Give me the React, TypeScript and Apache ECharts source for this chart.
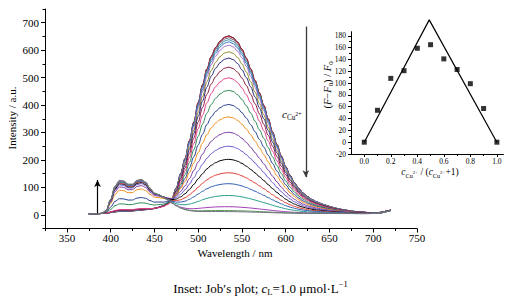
import React, { useEffect, useRef } from "react";
import * as echarts from "echarts";

const FONT = "Liberation Serif";

// Wavelength grid of the emission spectra (nm)
const wavelengths = [
  375, 380, 385, 390, 395, 400, 405, 410, 415, 420,
  425, 430, 435, 440, 445, 450, 455, 460, 465, 470,
  475, 480, 485, 490, 495, 500, 505, 510, 515, 520,
  525, 530, 535, 540, 545, 550, 555, 560, 565, 570,
  575, 580, 585, 590, 595, 600, 605, 610, 615, 620,
  625, 630, 635, 640, 645, 650, 655, 660, 665, 670,
  675, 680, 685, 690, 695, 700, 705, 710, 715, 720,
];

// Relative profile of the 535 nm band
const greenProfile = [
  0, 0, 0, 0.001, 0.002, 0.004, 0.006, 0.008, 0.009, 0.01,
  0.011, 0.013, 0.015, 0.018, 0.021, 0.026, 0.033, 0.042, 0.058, 0.085,
  0.145, 0.225, 0.31, 0.41, 0.515, 0.625, 0.725, 0.815, 0.885, 0.935,
  0.97, 0.992, 1.0, 0.99, 0.965, 0.925, 0.875, 0.815, 0.75, 0.68,
  0.61, 0.535, 0.46, 0.39, 0.325, 0.265, 0.215, 0.175, 0.142, 0.116,
  0.096, 0.08, 0.068, 0.058, 0.049, 0.041, 0.034, 0.028, 0.023, 0.019,
  0.015, 0.012, 0.01, 0.008, 0.006, 0.005, 0.004, 0.004, 0.004, 0.004,
];

// Relative profile of the 410/433 nm band
const blueProfile = [
  0, 0, 0, 0.01, 0.1, 0.42, 0.8, 0.97, 0.95, 0.86,
  0.86, 0.97, 1.0, 0.92, 0.74, 0.6, 0.555, 0.48, 0.4, 0.31,
  0.225, 0.155, 0.105, 0.072, 0.052, 0.04, 0.034, 0.03, 0.027, 0.025,
  0.023, 0.021, 0.02, 0.019, 0.018, 0.017, 0.016, 0.015, 0.014, 0.013,
  0.012, 0.011, 0.01, 0.009, 0.009, 0.008, 0.008, 0.007, 0.007, 0.006,
  0.006, 0.005, 0.005, 0.005, 0.004, 0.004, 0.004, 0.003, 0.003, 0.003,
  0.003, 0.002, 0.002, 0.002, 0.002, 0.002, 0.002, 0.002, 0.002, 0.002,
];

// Common baseline of all spectra (a.u.)
const baseline = [
  4, 4, 4, 4, 4, 4, 4, 4, 4, 4,
  4, 4, 4, 4, 4, 4, 4, 4, 4, 4,
  4, 4, 4, 4, 4, 4, 4, 4, 4, 4,
  4, 4, 4, 4, 4, 4, 4, 4, 4, 4,
  4, 4, 4, 4, 4, 4, 4, 4, 4, 4,
  4, 4, 4, 4, 4, 4, 4, 4, 4, 4,
  4, 4, 4, 4, 4, 5, 5, 7, 11, 15,
];

// Per-titration-step band heights (a.u.)
const greenPeaks = [648, 647, 641, 634, 626, 614, 590, 567, 534, 495, 449, 397, 351, 295, 244, 196, 147, 107, 64, 23, 9, 5];
const bluePeaks = [3, 4, 4, 5, 5, 6, 7, 8, 9, 11, 33, 53, 85, 98, 106, 111, 115, 118, 120, 122, 124, 125];
const curveColors = [
  "#111111", "#c8102e", "#6b5b6e", "#2f8f9d", "#3c6fc4", "#a070c0", "#8c8c28", "#28287a",
  "#8b1c3c", "#e0408a", "#2e8b57", "#27408b", "#f28e1c", "#7b3f9e", "#6a5acd", "#000000",
  "#e03c31", "#2f5fb3", "#2a9d8f", "#a03cb4", "#5a9a5a", "#707080",
];

const xTicksMain = [350, 400, 450, 500, 550, 600, 650, 700, 750];
const xMinorMain = [325, 375, 425, 475, 525, 575, 625, 675, 725];
const yTicksMain = [0, 100, 200, 300, 400, 500, 600, 700];
const yMinorMain = [-50, 50, 150, 250, 350, 450, 550, 650, 750];

// Inset: Job's plot
const jobRatio = [0, 0.1, 0.2, 0.3, 0.4, 0.5, 0.6, 0.7, 0.8, 0.9, 1.0];
const jobSignal = [0, 54, 108, 121, 159, 165, 141, 123, 99, 57, 0];
const fitRatio = [0, 0.49, 1.0];
const fitSignal = [0, 207, 0];
const insetXTicks = [0, 0.2, 0.4, 0.6, 0.8, 1.0];
const insetXMinor = [0.1, 0.3, 0.5, 0.7, 0.9];
const insetYTicks = [-20, 0, 20, 40, 60, 80, 100, 120, 140, 160, 180];
const insetYMinor = [-10, 10, 30, 50, 70, 90, 110, 130, 150, 170];

// Arrows (data coordinates of main plot)
const upArrow = [[385, 6], [385, 127]];
const downArrow = [[623, 686], [623, 137]];

function richSet(size: number) {
  const sub = Math.round(size * 0.65 * 10) / 10;
  const lh = size + 4;
  return {
    n: { fontFamily: FONT, fontSize: size, fill: "#000", color: "#000", lineHeight: lh, verticalAlign: "middle" },
    i: { fontFamily: FONT, fontSize: size, fontStyle: "italic", fill: "#000", color: "#000", lineHeight: lh, verticalAlign: "middle" },
    s: { fontFamily: FONT, fontSize: sub, fill: "#000", color: "#000", lineHeight: sub, verticalAlign: "bottom" },
    p: { fontFamily: FONT, fontSize: sub, fill: "#000", color: "#000", lineHeight: sub, verticalAlign: "top" },
    q: { fontFamily: FONT, fontSize: Math.round(sub * 0.8 * 10) / 10, fill: "#000", color: "#000", lineHeight: sub, verticalAlign: "middle" },
  };
}

function valueAxis(o: any) {
  const { grid, min, max, pos, ticks, labels, tickLen, fontSize, margin, formatter, showLine } = o;
  return {
    type: "value",
    gridIndex: grid,
    min,
    max,
    position: pos,
    axisLine: { show: showLine, onZero: false, lineStyle: { color: "#000", width: 1 } },
    axisTick: { show: true, inside: false, customValues: ticks, length: tickLen, lineStyle: { color: "#000", width: 1 } },
    axisLabel: labels
      ? { show: true, customValues: labels, color: "#000", fontFamily: FONT, fontSize, margin, formatter }
      : { show: false },
    splitLine: { show: false },
    minorTick: { show: false },
  };
}

function buildOption() {
  const spectra = greenPeaks.map((g, k) => ({
    type: "line",
    xAxisIndex: 0,
    yAxisIndex: 0,
    symbol: "none",
    showSymbol: false,
    smooth: 0.35,
    smoothMonotone: "x",
    silent: true,
    emphasis: { disabled: true },
    lineStyle: { color: curveColors[k], width: 1 },
    itemStyle: { color: curveColors[k] },
    data: wavelengths.map((w, i) => [
      w,
      Math.round((g * greenProfile[i] + bluePeaks[k] * blueProfile[i] + baseline[i]) * 10) / 10,
    ]),
  }));

  const arrowSeries = {
    type: "line",
    xAxisIndex: 0,
    yAxisIndex: 0,
    data: [],
    silent: true,
    markLine: {
      silent: true,
      animation: false,
      symbol: ["none", "arrow"],
      symbolSize: [5, 7],
      label: { show: false },
      lineStyle: { color: "#000", width: 1.2, type: "solid" },
      data: [
        [{ coord: upArrow[0] }, { coord: upArrow[1] }],
        [{ coord: downArrow[0], lineStyle: { color: "#3a3a3a", width: 1.3 } }, { coord: downArrow[1] }],
      ],
    },
  };

  const jobScatter = {
    type: "scatter",
    xAxisIndex: 2,
    yAxisIndex: 2,
    symbol: "rect",
    symbolSize: 5,
    silent: true,
    itemStyle: { color: "#000" },
    data: jobRatio.map((r, i) => [r, jobSignal[i]]),
    z: 5,
  };
  const jobFit = {
    type: "line",
    xAxisIndex: 2,
    yAxisIndex: 2,
    symbol: "none",
    showSymbol: false,
    clip: false,
    silent: true,
    lineStyle: { color: "#000", width: 1.2 },
    data: fitRatio.map((r, i) => [r, fitSignal[i]]),
  };

  const r11 = richSet(11);
  const r13 = richSet(13);
  const r10 = richSet(10.5);
  const r9 = richSet(9.5);

  const textStyle = (extra: any) => ({
    fontFamily: FONT,
    fill: "#000",
    align: "center",
    verticalAlign: "middle",
    ...extra,
  });

  return {
    animation: false,
    backgroundColor: "#ffffff",
    textStyle: { fontFamily: FONT },
    grid: [
      { left: 45, top: 9, width: 372, height: 219.5, outerBoundsMode: "none" },
      { left: 351, top: 31.7, width: 152.5, height: 122.3, outerBoundsMode: "none" },
    ],
    xAxis: [
      valueAxis({ grid: 0, min: 325, max: 750, pos: "bottom", ticks: xTicksMain, labels: xTicksMain, tickLen: 4, fontSize: 11, margin: 4, showLine: true }),
      valueAxis({ grid: 0, min: 325, max: 750, pos: "bottom", ticks: xMinorMain, tickLen: 2.5, showLine: false }),
      valueAxis({ grid: 1, min: -0.1, max: 1.05, pos: "bottom", ticks: insetXTicks, labels: insetXTicks, tickLen: 3, fontSize: 7.5, margin: 3, showLine: true, formatter: (v: number) => v.toFixed(1) }),
      valueAxis({ grid: 1, min: -0.1, max: 1.05, pos: "bottom", ticks: insetXMinor, tickLen: 2, showLine: false }),
    ],
    yAxis: [
      valueAxis({ grid: 0, min: -50, max: 750, pos: "left", ticks: yTicksMain, labels: yTicksMain, tickLen: 4, fontSize: 11, margin: 6, showLine: true }),
      valueAxis({ grid: 0, min: -50, max: 750, pos: "left", ticks: yMinorMain, tickLen: 2.5, showLine: false }),
      valueAxis({ grid: 1, min: -20, max: 187, pos: "left", ticks: insetYTicks, labels: insetYTicks, tickLen: 3, fontSize: 7.5, margin: 5, showLine: true }),
      valueAxis({ grid: 1, min: -20, max: 187, pos: "left", ticks: insetYMinor, tickLen: 2, showLine: false }),
    ],
    series: [...spectra, arrowSeries, jobFit, jobScatter],
    graphic: [
      { type: "text", x: 12, y: 118, rotation: Math.PI / 2, silent: true, style: textStyle({ text: "Intensity / a.u.", fontSize: 11 }) },
      { type: "text", x: 235, y: 252.5, silent: true, style: textStyle({ text: "Wavelength / nm", fontSize: 11 }) },
      { type: "text", x: 282, y: 114, silent: true, style: textStyle({ text: "{i|c}{s|Cu}{q|2+}", rich: r11, fontSize: 11, align: "left" }) },
      { type: "text", x: 327, y: 85, rotation: Math.PI / 2, silent: true, style: textStyle({ text: "{n|(}{i|F}{n|−}{i|F}{s|0}{n|) / }{i|F}{s|0}", rich: r10, fontSize: 10.5 }) },
      { type: "text", x: 430, y: 172, silent: true, style: textStyle({ text: "{i|c}{s|Cu}{q|2+}{n| / (}{i|c}{s|Cu}{q|2+}{n|+1)}", rich: r9, fontSize: 9.5 }) },
      { type: "text", x: 260.5, y: 288, silent: true, style: textStyle({ text: "{n|Inset: Job′s plot; }{i|c}{s|L}{n|=1.0 μmol·L}{p|−1}", rich: r13, fontSize: 13 }) },
    ],
  };
}

export default function App() {
  const ref = useRef<HTMLDivElement>(null);
  useEffect(() => {
    if (!ref.current) return;
    const chart = echarts.init(ref.current, null, { renderer: "svg" });
    chart.setOption(buildOption() as any);
    return () => chart.dispose();
  }, []);
  return (
    <div ref={ref} style={{ position: "fixed", left: 0, top: 0, width: 518, height: 301, background: "#fff" }} />
  );
}
